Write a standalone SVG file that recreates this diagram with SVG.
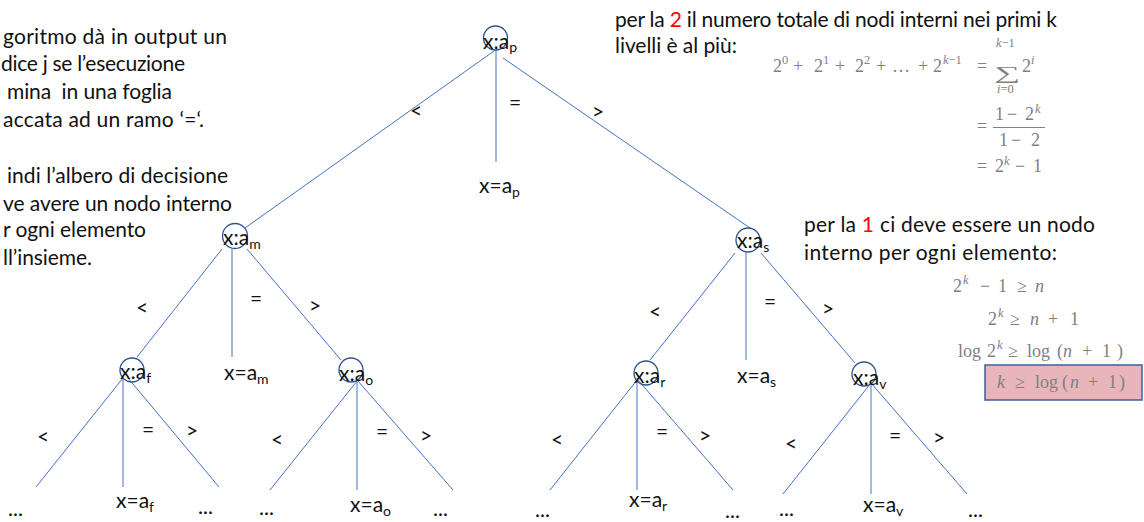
<svg xmlns="http://www.w3.org/2000/svg" width="1144" height="522" viewBox="0 0 1144 522">
<style>
  .t { font-family: Lato, "Liberation Sans", sans-serif; font-size: 21px; fill: #111; }
  .sub { font-size: 14px; }
  .lbl { font-family: Lato, "Liberation Sans", sans-serif; font-size: 21px; fill: #111; text-anchor: middle; }
  .red { fill: #ff0000; }
  .node { fill: none; stroke: #2f528f; stroke-width: 1.3; }
  .edge { stroke: #4472c4; stroke-width: 1; fill: none; }
  .m { font-family: "Liberation Serif", "DejaVu Serif", serif; font-size: 18px; fill: #808080; }
  .ms { font-size: 12.5px; }
  .it { font-style: italic; }
  .hl { fill: #e8b5bb; stroke: #3f5f9a; stroke-width: 1.5; }
</style>
<rect width="1144" height="522" fill="#ffffff"/>

<!-- left paragraph (cut at the left edge as in the picture) -->
<g id="left-text">
  <text class="t" x="3" y="44" textLength="224" lengthAdjust="spacing">goritmo dà in output un</text>
  <text class="t" x="1" y="71" textLength="184" lengthAdjust="spacing">dice j se l’esecuzione</text>
  <text class="t" x="7" y="99" textLength="165" lengthAdjust="spacing">mina&#160; in una foglia</text>
  <text class="t" x="3" y="127" textLength="201" lengthAdjust="spacing">accata ad un ramo ‘=‘.</text>
  <text class="t" x="7" y="183" textLength="221" lengthAdjust="spacing">indi l’albero di decisione</text>
  <text class="t" x="3" y="211" textLength="229" lengthAdjust="spacing">ve avere un nodo interno</text>
  <text class="t" x="3" y="237" textLength="143" lengthAdjust="spacing">r ogni elemento</text>
  <text class="t" x="3" y="265" textLength="89" lengthAdjust="spacing">ll’insieme.</text>
</g>

<!-- top-right paragraph -->
<g id="right-text-top">
  <text class="t" x="615" y="27" textLength="442" lengthAdjust="spacing">per la <tspan class="red">2</tspan> il numero totale di nodi interni nei primi k</text>
  <text class="t" x="615" y="53" textLength="122" lengthAdjust="spacing">livelli è al più:</text>
</g>

<g id="math-sum">
  <text class="m" y="72"><tspan x="773">2</tspan><tspan x="793">+</tspan><tspan x="814">2</tspan><tspan x="835">+</tspan><tspan x="855">2</tspan><tspan x="876">+</tspan><tspan x="892">…</tspan><tspan x="918">+</tspan><tspan x="933">2</tspan><tspan x="977">=</tspan><tspan x="1022">2</tspan></text>
  <text class="m ms" y="64"><tspan x="782">0</tspan><tspan x="823">1</tspan><tspan x="864">2</tspan><tspan x="943" class="it">k</tspan><tspan>−1</tspan><tspan x="1031" class="it">i</tspan></text>
  <text class="m" x="994" y="79" font-size="28" textLength="26" lengthAdjust="spacingAndGlyphs">∑</text>
  <text class="m ms" y="47"><tspan x="996" class="it">k</tspan><tspan>−1</tspan></text>
  <text class="m ms" y="93"><tspan x="997" class="it">i</tspan><tspan>=0</tspan></text>

  <text class="m" x="977" y="132">=</text>
  <text class="m" y="120"><tspan x="995">1</tspan><tspan x="1007">−</tspan><tspan x="1025">2</tspan></text>
  <text class="m ms it" x="1035" y="113">k</text>
  <line x1="993" y1="127.5" x2="1045" y2="127.5" stroke="#808080" stroke-width="1"/>
  <text class="m" y="146"><tspan x="999">1</tspan><tspan x="1011">−</tspan><tspan x="1031">2</tspan></text>

  <text class="m" y="172"><tspan x="977">=</tspan><tspan x="995">2</tspan><tspan x="1015">−</tspan><tspan x="1033">1</tspan></text>
  <text class="m ms it" x="1004" y="165">k</text>
</g>

<!-- lower-right paragraph -->
<g id="right-text-mid">
  <text class="t" x="804" y="232" textLength="291" lengthAdjust="spacing">per la <tspan class="red">1</tspan> ci deve essere un nodo</text>
  <text class="t" x="804" y="260" textLength="253" lengthAdjust="spacing">interno per ogni elemento:</text>
</g>

<g id="math-ineq">
  <text class="m" y="292"><tspan x="953">2</tspan><tspan x="980">−</tspan><tspan x="998">1</tspan><tspan x="1017">≥</tspan><tspan x="1035" class="it">n</tspan></text>
  <text class="m ms it" x="963" y="284">k</text>

  <text class="m" y="325"><tspan x="988">2</tspan><tspan x="1010">≥</tspan><tspan x="1030" class="it">n</tspan><tspan x="1048">+</tspan><tspan x="1070">1</tspan></text>
  <text class="m ms it" x="998" y="317">k</text>

  <text class="m" y="357"><tspan x="958">log</tspan><tspan x="987">2</tspan><tspan x="1008">≥</tspan><tspan x="1027">log</tspan><tspan x="1057">(</tspan><tspan x="1063" class="it">n</tspan><tspan x="1082">+</tspan><tspan x="1102">1</tspan><tspan x="1117">)</tspan></text>
  <text class="m ms it" x="997" y="349">k</text>

  <rect class="hl" x="985" y="365" width="157" height="35"/>
  <text class="m" y="388" fill="#7a6468"><tspan x="997" class="it">k</tspan><tspan x="1015">≥</tspan><tspan x="1035">log</tspan><tspan x="1062">(</tspan><tspan x="1070" class="it">n</tspan><tspan x="1088">+</tspan><tspan x="1108">1</tspan><tspan x="1119">)</tspan></text>
</g>

<!-- connectors -->
<g id="connectors">
  <line class="edge" x1="494" y1="51" x2="245" y2="228"/>
  <line class="edge" x1="496" y1="50" x2="496" y2="162"/>
  <line class="edge" x1="503" y1="58" x2="750" y2="228"/>

  <line class="edge" x1="222" y1="249" x2="137" y2="357"/>
  <line class="edge" x1="232" y1="249" x2="232" y2="357"/>
  <line class="edge" x1="247" y1="249" x2="341" y2="360"/>

  <line class="edge" x1="123" y1="378" x2="36" y2="487"/>
  <line class="edge" x1="123" y1="378" x2="123" y2="487"/>
  <line class="edge" x1="128" y1="378" x2="219" y2="487"/>

  <line class="edge" x1="357" y1="381" x2="270" y2="490"/>
  <line class="edge" x1="357" y1="381" x2="357" y2="490"/>
  <line class="edge" x1="358" y1="381" x2="453" y2="490"/>

  <line class="edge" x1="735" y1="253" x2="650" y2="360"/>
  <line class="edge" x1="746" y1="253" x2="746" y2="360"/>
  <line class="edge" x1="761" y1="253" x2="855" y2="363"/>

  <line class="edge" x1="637" y1="380" x2="550" y2="490"/>
  <line class="edge" x1="637" y1="380" x2="637" y2="490"/>
  <line class="edge" x1="638" y1="380" x2="733" y2="490"/>

  <line class="edge" x1="871" y1="383" x2="783" y2="494"/>
  <line class="edge" x1="871" y1="383" x2="871" y2="494"/>
  <line class="edge" x1="871" y1="383" x2="967" y2="494"/>
</g>

<g id="edge-labels">
  <text class="lbl" x="416" y="118">&lt;</text>
  <text class="lbl" x="515" y="110">=</text>
  <text class="lbl" x="598" y="119">&gt;</text>

  <text class="lbl" x="142" y="315">&lt;</text>
  <text class="lbl" x="256" y="306">=</text>
  <text class="lbl" x="315" y="313">&gt;</text>

  <text class="lbl" x="43" y="444">&lt;</text>
  <text class="lbl" x="148" y="437">=</text>
  <text class="lbl" x="192" y="438">&gt;</text>

  <text class="lbl" x="277" y="447">&lt;</text>
  <text class="lbl" x="382" y="439">=</text>
  <text class="lbl" x="426" y="443">&gt;</text>

  <text class="lbl" x="655" y="319">&lt;</text>
  <text class="lbl" x="770" y="309">=</text>
  <text class="lbl" x="828" y="316">&gt;</text>

  <text class="lbl" x="557" y="447">&lt;</text>
  <text class="lbl" x="662" y="439">=</text>
  <text class="lbl" x="705" y="443">&gt;</text>

  <text class="lbl" x="791" y="451">&lt;</text>
  <text class="lbl" x="895" y="443">=</text>
  <text class="lbl" x="939" y="445">&gt;</text>
</g>

<!-- internal nodes -->
<g id="node-ap"><circle class="node" cx="495.5" cy="38" r="12"/><text class="t" x="483" y="49">x:a<tspan class="sub" dy="3">p</tspan></text></g>
<g id="node-am"><circle class="node" cx="235" cy="236" r="12.5"/><text class="t" x="223" y="245">x:a<tspan class="sub" dy="4">m</tspan></text></g>
<g id="node-as"><circle class="node" cx="748" cy="240" r="12"/><text class="t" x="737" y="248">x:a<tspan class="sub" dy="4">s</tspan></text></g>
<g id="node-af"><circle class="node" cx="132" cy="370" r="12"/><text class="t" x="120" y="379">x:a<tspan class="sub" dy="4">f</tspan></text></g>
<g id="node-ao"><circle class="node" cx="351" cy="370" r="12"/><text class="t" x="339" y="381">x:a<tspan class="sub" dy="4">o</tspan></text></g>
<g id="node-ar"><circle class="node" cx="646" cy="373" r="12"/><text class="t" x="634" y="383">x:a<tspan class="sub" dy="4">r</tspan></text></g>
<g id="node-av"><circle class="node" cx="864" cy="374" r="12"/><text class="t" x="853" y="385">x:a<tspan class="sub" dy="4">v</tspan></text></g>

<!-- leaves -->
<g id="leaf-ap"><text class="t" x="479" y="193">x=a<tspan class="sub" dy="4">p</tspan></text></g>
<g id="leaf-am"><text class="t" x="224" y="380">x=a<tspan class="sub" dy="4">m</tspan></text></g>
<g id="leaf-as"><text class="t" x="737" y="383">x=a<tspan class="sub" dy="4">s</tspan></text></g>
<g id="leaf-af"><text class="t" x="116" y="508">x=a<tspan class="sub" dy="4">f</tspan></text></g>
<g id="leaf-ao"><text class="t" x="350" y="512">x=a<tspan class="sub" dy="4">o</tspan></text></g>
<g id="leaf-ar"><text class="t" x="629" y="507">x=a<tspan class="sub" dy="4">r</tspan></text></g>
<g id="leaf-av"><text class="t" x="863" y="512">x=a<tspan class="sub" dy="4">v</tspan></text></g>

<g id="leaf-dots-1"><text class="t" x="8" y="516">...</text></g>
<g id="leaf-dots-2"><text class="t" x="198" y="514">...</text></g>
<g id="leaf-dots-3"><text class="t" x="259" y="515">...</text></g>
<g id="leaf-dots-4"><text class="t" x="433" y="516">...</text></g>
<g id="leaf-dots-5"><text class="t" x="535" y="517">...</text></g>
<g id="leaf-dots-6"><text class="t" x="725" y="518">...</text></g>
<g id="leaf-dots-7"><text class="t" x="779" y="516">...</text></g>
<g id="leaf-dots-8"><text class="t" x="968" y="517">...</text></g>
</svg>
